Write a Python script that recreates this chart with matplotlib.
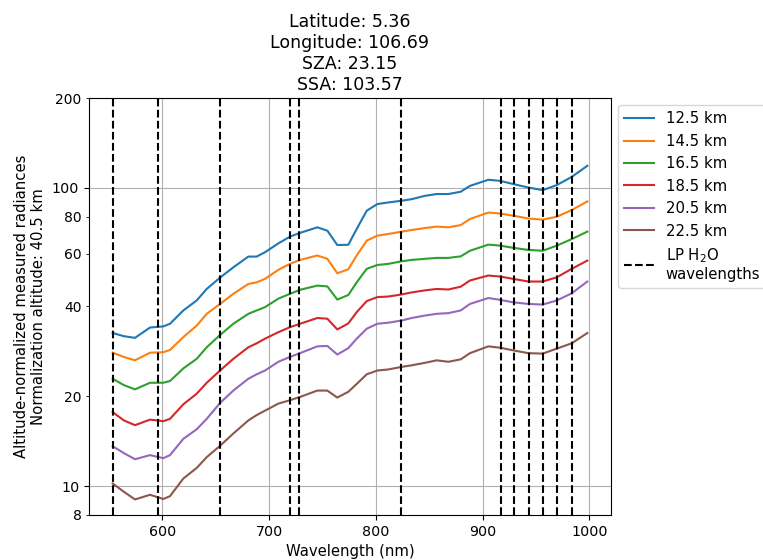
import matplotlib
matplotlib.use('Agg')
import matplotlib.pyplot as plt
from matplotlib.ticker import FixedLocator, FuncFormatter

# wavelengths (nm) of the sampled radiances
wavelengths = [553.5, 564.0, 574.4, 588.5, 600.9, 607.2, 619.7, 632.2, 641.6, 654.1,
               666.5, 680.6, 688.4, 696.2, 708.7, 719.6, 729.0, 745.2, 754.6, 763.9,
               774.2, 782.1, 791.5, 801.4, 811.7, 824.3, 833.6, 846.1, 857.0, 867.9,
               879.5, 888.2, 905.4, 916.3, 928.8, 942.9, 956.3, 969.5, 983.5, 998.1]

rad_12_5 = [32.6, 31.8, 31.4, 34.0, 34.3, 35.0, 38.8, 41.9, 45.8, 50.0,
            54.1, 58.8, 58.8, 60.8, 65.1, 68.6, 70.6, 73.7, 71.8, 64.3,
            64.4, 72.8, 83.8, 88.2, 89.3, 90.5, 91.6, 94.0, 95.3, 95.3,
            97.0, 101.5, 106.4, 105.5, 102.9, 100.2, 98.2, 102.1, 108.8, 118.5]
rad_14_5 = [28.0, 27.1, 26.4, 28.0, 28.1, 28.6, 31.6, 34.5, 37.8, 40.8,
            44.1, 47.6, 48.2, 49.5, 53.1, 55.6, 57.3, 59.3, 57.8, 51.7,
            53.3, 59.3, 66.5, 69.1, 70.0, 71.3, 72.2, 73.3, 74.1, 73.7,
            75.0, 78.6, 82.6, 82.0, 80.6, 78.9, 78.2, 80.0, 84.2, 90.0]
rad_16_5 = [22.9, 21.8, 21.1, 22.2, 22.2, 22.5, 24.8, 26.7, 29.2, 32.1,
            35.0, 37.8, 38.8, 39.8, 42.5, 44.1, 45.5, 47.0, 46.7, 42.2,
            43.7, 48.2, 53.5, 55.1, 55.6, 56.7, 57.3, 57.8, 58.2, 58.2,
            58.9, 61.5, 64.5, 64.0, 62.9, 61.9, 61.5, 64.0, 67.3, 71.3]
rad_18_5 = [17.7, 16.6, 16.0, 16.7, 16.5, 16.8, 18.8, 20.4, 22.2, 24.4,
            26.7, 29.2, 30.1, 31.2, 32.8, 34.1, 35.0, 36.6, 36.4, 33.5,
            35.1, 38.3, 41.7, 43.0, 43.2, 43.9, 44.6, 45.3, 45.8, 45.6,
            46.6, 48.9, 50.8, 50.4, 49.5, 48.5, 48.5, 50.1, 53.5, 57.0]
rad_20_5 = [13.6, 12.9, 12.3, 12.7, 12.4, 12.7, 14.4, 15.5, 16.8, 19.0,
            20.9, 22.9, 23.7, 24.4, 26.1, 27.1, 27.9, 29.4, 29.5, 27.6,
            29.0, 31.2, 33.7, 35.0, 35.3, 35.9, 36.6, 37.3, 37.8, 38.0,
            38.8, 40.8, 42.7, 42.1, 41.3, 40.8, 40.6, 41.9, 44.3, 48.5]
rad_22_5 = [10.2, 9.57, 9.02, 9.35, 9.05, 9.25, 10.6, 11.5, 12.5, 13.65,
            15.0, 16.6, 17.3, 17.9, 18.9, 19.4, 19.9, 20.9, 20.9, 19.8,
            20.7, 22.0, 23.7, 24.4, 24.6, 25.1, 25.4, 25.9, 26.4, 26.1,
            26.6, 27.9, 29.4, 29.1, 28.5, 27.9, 27.8, 28.9, 30.1, 32.6]

altitudes = ['12.5 km', '14.5 km', '16.5 km', '18.5 km', '20.5 km', '22.5 km']
radiances = [rad_12_5, rad_14_5, rad_16_5, rad_18_5, rad_20_5, rad_22_5]

h2o_wavelengths = [553.5, 595.7, 653.8, 720.0, 728.3, 823.6,
                   917.0, 929.8, 943.2, 956.4, 970.0, 983.8]

fig = plt.figure(figsize=(7.63, 5.6), dpi=100)
ax = fig.add_axes([0.1166, 0.0804, 0.6838, 0.7446])

for alt, rad in zip(altitudes, radiances):
    ax.plot(wavelengths, rad, label=alt)

for i, wl in enumerate(h2o_wavelengths):
    ax.axvline(wl, color='k', linestyle='--',
               label='LP H$_2$O\nwavelengths' if i == 0 else None)

ax.set_yscale('log')
ax.set_ylim(8, 200)
ax.set_xlim(531.3, 1020)
ax.set_xticks([600, 700, 800, 900, 1000])
ax.yaxis.set_major_locator(FixedLocator([10, 100]))
ax.yaxis.set_minor_locator(FixedLocator([8, 20, 40, 60, 80, 200]))
fmt = FuncFormatter(lambda v, p: '%g' % v)
ax.yaxis.set_major_formatter(fmt)
ax.yaxis.set_minor_formatter(fmt)
ax.tick_params(labelsize=10.3)
ax.grid(True, which='major')

ax.set_xlabel('Wavelength (nm)', fontsize=10.7)
ax.set_ylabel('Altitude-normalized measured radiances\nNormalization altitude: 40.5 km',
              fontsize=10.7)
ax.set_title('Latitude: 5.36\nLongitude: 106.69\nSZA: 23.15\nSSA: 103.57', fontsize=12.5)
ax.legend(loc='upper left', bbox_to_anchor=(1, 1), fontsize=10.7)

fig.savefig('out.png', dpi=100)
